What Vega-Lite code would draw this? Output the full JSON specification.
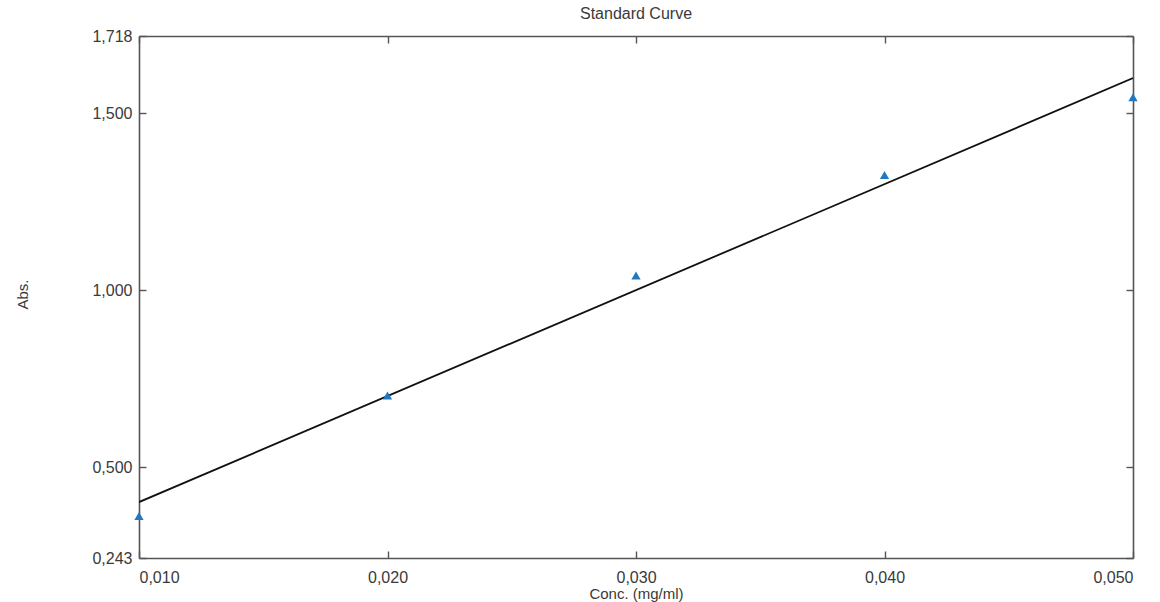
{
  "$schema": "https://vega.github.io/schema/vega-lite/v6.json",
  "width": 994,
  "height": 522,
  "autosize": {"type": "none"},
  "padding": {"left": 139, "top": 36, "right": 27, "bottom": 44},
  "background": "white",
  "config": {
    "font": "Liberation Sans",
    "view": {"stroke": null},
    "axis": {
      "labelFont": "Liberation Sans",
      "titleFont": "Liberation Sans",
      "labelFontSize": 16,
      "titleFontSize": 15,
      "labelColor": "#3a3a3a",
      "titleColor": "#3a3a3a",
      "titleFontWeight": "normal",
      "domainColor": "#555555",
      "domainWidth": 1.6,
      "tickColor": "#555555",
      "tickWidth": 1.4,
      "tickSize": -7,
      "grid": false
    }
  },
  "title": {
    "text": "Standard Curve",
    "font": "Liberation Sans",
    "fontSize": 16,
    "fontWeight": "normal",
    "color": "#3a3a3a",
    "anchor": "middle",
    "offset": 6
  },
  "datasets": {
    "points": [
      {"conc": 0.010, "abs": 0.362},
      {"conc": 0.020, "abs": 0.702},
      {"conc": 0.030, "abs": 1.041},
      {"conc": 0.040, "abs": 1.325},
      {"conc": 0.050, "abs": 1.545}
    ],
    "fit": [
      {"conc": 0.010, "abs": 0.401},
      {"conc": 0.050, "abs": 1.599}
    ]
  },
  "layer": [
    {
      "data": {"name": "fit"},
      "mark": {"type": "line", "color": "#111111", "strokeWidth": 1.8, "clip": true},
      "encoding": {
        "x": {
          "field": "conc", "type": "quantitative",
          "scale": {"domain": [0.01, 0.05], "nice": false, "zero": false},
          "axis": {
            "orient": "bottom",
            "values": [0.01, 0.02, 0.03, 0.04, 0.05],
            "labelExpr": "replace(format(datum.value, '.3f'), '.', ',')",
            "labelPadding": 18,
            "title": "Conc. (mg/ml)",
            "titleX": 497,
            "titleY": 28,
            "titleBaseline": "top",
            "titleAlign": "center"
          }
        },
        "y": {
          "field": "abs", "type": "quantitative",
          "scale": {"domain": [0.243, 1.718], "nice": false, "zero": false},
          "axis": {
            "orient": "left",
            "values": [0.243, 0.5, 1.0, 1.5, 1.718],
            "labelExpr": "replace(format(datum.value, '.3f'), '.', ',')",
            "labelPadding": 14,
            "title": "Abs.",
            "titleX": -117,
            "titleY": 258,
            "titleAngle": 270,
            "titleBaseline": "middle",
            "titleAlign": "center"
          }
        }
      }
    },
    {
      "data": {"name": "points"},
      "mark": {"type": "point", "shape": "triangle-up", "filled": true, "color": "#1f78c1", "opacity": 1, "size": 85, "clip": false},
      "encoding": {
        "x": {
          "field": "conc", "type": "quantitative",
          "scale": {"domain": [0.01, 0.05], "nice": false, "zero": false},
          "axis": {
            "orient": "top",
            "values": [0.01, 0.02, 0.03, 0.04, 0.05],
            "labels": false,
            "title": null
          }
        },
        "y": {
          "field": "abs", "type": "quantitative",
          "scale": {"domain": [0.243, 1.718], "nice": false, "zero": false},
          "axis": {
            "orient": "right",
            "values": [0.243, 0.5, 1.0, 1.5, 1.718],
            "labels": false,
            "title": null
          }
        }
      }
    }
  ],
  "resolve": {"axis": {"x": "independent", "y": "independent"}}
}
